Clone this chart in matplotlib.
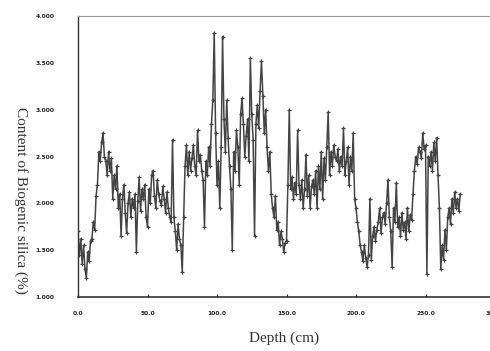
import numpy as np
import matplotlib
matplotlib.use('Agg')
import matplotlib.pyplot as plt
from matplotlib.ticker import FormatStrFormatter

# Biogenic silica profile, 1 cm step
depth = np.arange(0, 276)
silica = [
    1.70, 1.45, 1.62, 1.35, 1.55, 1.30, 1.20, 1.48, 1.38, 1.60,
    1.62, 1.80, 1.72, 2.08, 2.20, 2.55, 2.45, 2.65, 2.75, 2.50,
    2.45, 2.30, 2.55, 2.35, 2.48, 2.05, 2.30, 2.15, 2.40, 1.95,
    2.10, 1.65, 2.05, 2.20, 1.90, 1.68, 2.00, 2.12, 1.85, 2.05,
    1.95, 2.10, 1.48, 2.02, 2.28, 1.92, 2.15, 2.05, 2.20, 1.85,
    1.75, 2.15, 2.00, 2.30, 2.35, 2.08, 1.95, 2.25, 2.10, 2.02,
    1.98, 2.18, 2.05, 1.90, 2.12, 1.95, 1.85, 1.80, 2.68, 1.85,
    1.70, 1.50, 1.78, 1.62, 1.55, 1.27, 1.85, 2.40, 2.62, 2.30,
    2.55, 2.35, 2.48, 2.62, 2.40, 2.30, 2.78, 2.45, 2.52, 2.35,
    2.25, 1.75, 2.45, 2.30, 2.60, 2.40, 2.85, 3.10, 3.82, 2.75,
    2.20, 2.45, 1.95, 2.60, 3.78, 2.90, 2.55, 3.10, 2.70, 2.40,
    2.15, 1.50, 2.55, 2.35, 2.78, 2.60, 2.20, 2.95, 3.12, 2.85,
    2.50, 2.72, 2.90, 2.45, 3.55, 2.95, 2.68, 1.65, 2.85, 3.05,
    2.80, 3.20, 3.52, 3.15, 2.75, 3.00, 2.60, 2.35, 2.55, 2.10,
    1.95, 1.85, 2.08, 1.72, 1.80, 1.55, 1.70, 1.62, 1.48, 1.58,
    1.60, 2.20, 3.00, 2.15, 2.28, 2.05, 2.22, 2.10, 2.78, 2.20,
    2.05, 2.25, 1.95, 2.15, 2.52, 2.08, 2.30, 1.95, 2.18, 2.25,
    2.10, 2.35, 1.95, 2.40, 2.15, 2.55, 2.05, 2.48, 2.25, 2.60,
    2.97, 2.30, 2.55, 2.40, 2.62, 2.50, 2.45, 2.58, 2.35, 2.50,
    2.40, 2.80, 2.30, 2.45, 2.60, 2.20, 2.50, 2.35, 2.75, 2.05,
    1.95, 1.80, 1.70, 1.55, 1.48, 1.38, 1.55, 1.42, 1.32, 1.45,
    2.05, 1.40, 1.65, 1.75, 1.60, 1.72, 1.80, 1.95, 1.68, 1.85,
    1.90, 1.78, 2.00, 2.25, 1.85, 1.70, 1.32, 1.95, 1.80, 2.22,
    1.75, 1.85, 1.65, 1.90, 1.72, 1.80, 1.62, 1.95, 1.70, 1.88,
    1.82, 2.10, 2.35, 2.50, 2.42, 2.60, 2.55, 2.48, 2.75, 2.58,
    2.62, 1.25, 2.50, 2.40, 2.55, 2.35, 2.65, 2.45, 2.70, 2.30,
    1.95, 1.30, 1.55, 1.40, 1.72, 1.50, 1.85, 1.95, 1.78, 2.05,
    1.90, 2.12, 1.95, 2.05, 1.92, 2.10,
]
x_ticks = [0, 50, 100, 150, 200, 250, 300]
y_ticks = [1.0, 1.5, 2.0, 2.5, 3.0, 3.5, 4.0]

fig = plt.figure(figsize=(4.9, 3.51), dpi=100, facecolor='white')
ax = fig.add_axes([78 / 490, 1 - 297 / 351, 417 / 490, 281 / 351])

ax.plot(depth, silica, color='#444444', linewidth=1.1,
        marker='+', markersize=3.5, markeredgewidth=0.9)

ax.set_xlim(0, 300)
ax.set_ylim(1.0, 4.0)
ax.set_xticks(x_ticks)
ax.set_yticks(y_ticks)
ax.xaxis.set_major_formatter(FormatStrFormatter('%.1f'))
ax.yaxis.set_major_formatter(FormatStrFormatter('%.3f'))
ax.tick_params(axis='x', direction='in', length=2, width=0.8, pad=10,
               labelsize=4.3, colors='#222222')
ax.tick_params(axis='y', length=0, pad=17, labelsize=4.3, colors='#222222')
for lab in ax.get_xticklabels() + ax.get_yticklabels():
    lab.set_fontweight('bold')

ax.spines['right'].set_visible(False)
ax.spines['left'].set_color('#333333')
ax.spines['bottom'].set_color('#333333')
ax.spines['top'].set_color('#999999')
ax.spines['left'].set_linewidth(1.0)
ax.spines['bottom'].set_linewidth(1.2)

fig.text(0.042, 0.43, 'Content of Biogenic silica (%)', rotation=270,
         ha='center', va='center', fontsize=11, family='Liberation Serif',
         color='#333333')
fig.text(0.58, 0.035, 'Depth (cm)', ha='center', va='center', fontsize=11,
         family='Liberation Serif', color='#333333')

fig.savefig('out.png', dpi=100)
